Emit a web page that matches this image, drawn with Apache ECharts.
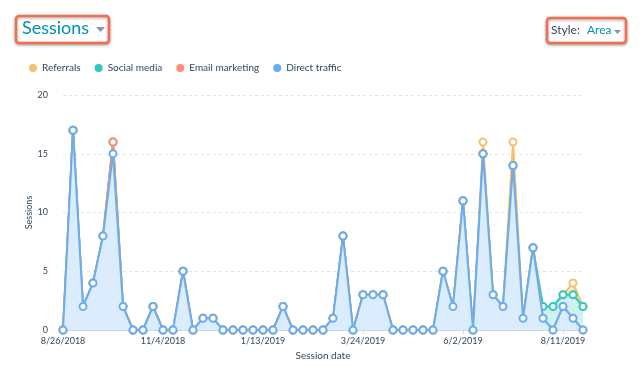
<!DOCTYPE html>
<html><head><meta charset="utf-8">
<script src="https://cdn.jsdelivr.net/npm/echarts@6/dist/echarts.min.js"></script>
<style>html,body{margin:0;padding:0;background:#fff}#c{width:641px;height:382px}</style>
</head><body><div id="c"></div>
<script>
// weekly categories, 8/26/2018 .. 8/25/2019
const startDate = [2018, 7, 26];
const weekCount = 53;
const categories = [];
for (let i = 0; i < weekCount; i++) {
  const d = new Date(startDate[0], startDate[1], startDate[2] + 7 * i);
  categories.push((d.getMonth() + 1) + '/' + d.getDate() + '/' + d.getFullYear());
}
const directTraffic = [0,17,2,4,8,15,2,0,0,2,0,0,5,0,1,1,0,0,0,0,0,0,2,0,0,0,0,1,8,0,3,3,3,0,0,0,0,0,5,2,11,0,15,3,2,14,1,7,1,0,2,1,0];
const emailMarketing = [0,0,0,0,0,1,0,0,0,0,0,0,0,0,0,0,0,0,0,0,0,0,0,0,0,0,0,0,0,0,0,0,0,0,0,0,0,0,0,0,0,0,0,0,0,0,0,0,0,0,0,0,0];
const socialMedia = [0,0,0,0,0,0,0,0,0,0,0,0,0,0,0,0,0,0,0,0,0,0,0,0,0,0,0,0,0,0,0,0,0,0,0,0,0,0,0,0,0,0,0,0,0,0,0,0,1,2,1,2,2];
const referrals = [0,0,0,0,0,0,0,0,0,0,0,0,0,0,0,0,0,0,0,0,0,0,0,0,0,0,0,0,0,0,0,0,0,0,0,0,0,0,0,0,0,0,1,0,0,2,0,0,0,0,0,1,0];
const yTicks = [0, 5, 10, 15, 20];

const chart = echarts.init(document.getElementById('c'));
const FONT = 'Lato, "Noto Sans", sans-serif';
function s(name, data, color, area, z) {
  return {
    name, type: 'line', stack: 'total', data, z,
    symbol: 'emptyCircle', symbolSize: 7, showAllSymbol: true,
    itemStyle: { color: color, borderWidth: 2 },
    lineStyle: { color: color, width: 2 },
    areaStyle: { color: area, opacity: 1 },
    emphasis: { disabled: true }
  };
}
chart.setOption({
  animation: false,
  textStyle: { fontFamily: FONT },
  legend: {
    data: ['Referrals', 'Social media', 'Email marketing', 'Direct traffic'],
    left: 24, top: 58, icon: 'circle', itemWidth: 8, itemHeight: 8, itemGap: 14,
    textStyle: { fontSize: 10, color: '#33475b', fontFamily: FONT }
  },
  grid: { left: 63, right: 58, top: 95, bottom: 52 },
  xAxis: {
    type: 'category', data: categories, boundaryGap: false,
    name: 'Session date', nameLocation: 'middle', nameGap: 20,
    nameTextStyle: { fontSize: 10, color: '#33475b', fontFamily: FONT },
    axisLine: { lineStyle: { color: '#cbd6e2' } },
    axisTick: { show: true, interval: 9, length: 4, lineStyle: { color: '#cbd6e2' } },
    axisLabel: { interval: 9, fontSize: 9, color: '#33475b', margin: 7, fontFamily: FONT }
  },
  yAxis: {
    type: 'value', min: yTicks[0], max: yTicks[yTicks.length - 1], interval: 5,
    name: 'Sessions', nameLocation: 'middle', nameGap: 29, nameMoveOverlap: false,
    nameTextStyle: { fontSize: 9, color: '#33475b', fontFamily: FONT },
    axisLine: { show: false }, axisTick: { show: false },
    axisLabel: { fontSize: 9, color: '#33475b', margin: 15, fontFamily: FONT },
    splitLine: { lineStyle: { color: '#dfe3eb', type: [3, 3] } }
  },
  series: [
    s('Direct traffic', directTraffic, '#6aaef0', '#dbecfc', 6),
    s('Email marketing', emailMarketing, '#ff8f73', '#ffd9cf', 5),
    s('Social media', socialMedia, '#2fc9c2', '#cdf2ef', 4),
    s('Referrals', referrals, '#f5c26b', '#fde9c9', 3)
  ],
  graphic: [
    { type: 'rect', shape: { x: 16, y: 16, width: 93, height: 27, r: 3 },
      style: { fill: '#fff', stroke: '#f2704f', lineWidth: 2.5, shadowBlur: 3, shadowColor: 'rgba(0,0,0,0.35)', shadowOffsetY: 1 } },
    { type: 'text', x: 22, y: 19, style: { text: 'Sessions', fill: '#0091ae', fontSize: 18, fontFamily: FONT } },
    { type: 'polygon', shape: { points: [[96, 27], [105, 27], [100.5, 32]] }, style: { fill: '#7c98b6' } },
    { type: 'rect', shape: { x: 547, y: 18, width: 79, height: 25, r: 3 },
      style: { fill: '#fff', stroke: '#f2704f', lineWidth: 2.5, shadowBlur: 3, shadowColor: 'rgba(0,0,0,0.35)', shadowOffsetY: 1 } },
    { type: 'text', x: 551, y: 24, style: { text: 'Style:', fill: '#33475b', fontSize: 12, fontFamily: FONT } },
    { type: 'text', x: 587, y: 24, style: { text: 'Area', fill: '#0091ae', fontSize: 12, fontFamily: FONT } },
    { type: 'polygon', shape: { points: [[614, 30], [621, 30], [617.5, 34]] }, style: { fill: '#7c98b6' } }
  ]
});
</script></body></html>
